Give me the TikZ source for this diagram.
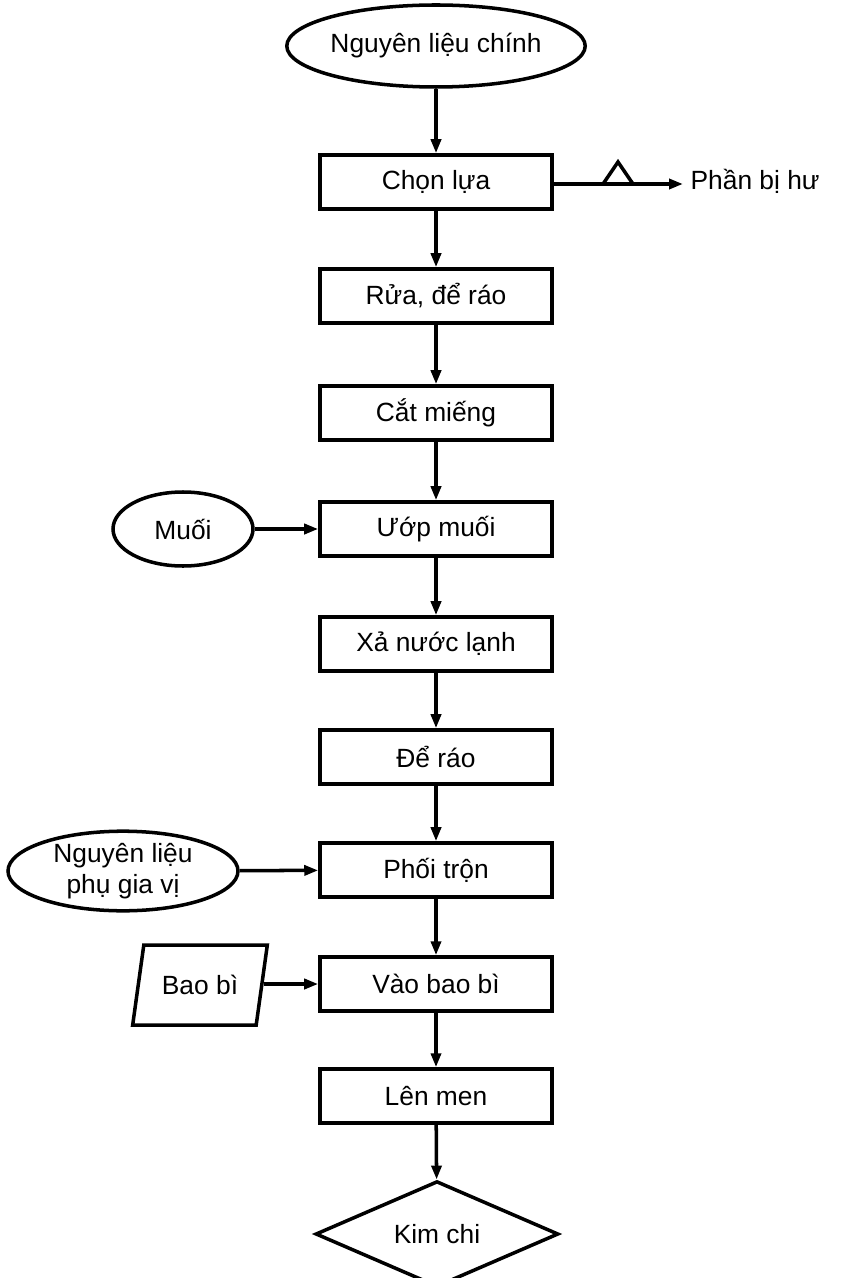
\documentclass[tikz,border=0pt]{standalone}
\usepackage{fontspec}
\setmainfont{Liberation Sans}
\usepackage{tikz}
\usetikzlibrary{positioning, shapes, arrows.meta, calc}

\begin{document}
\begin{tikzpicture}[x=0.2mm, y=-0.2mm, line width=2pt,
    font=\fontsize{15}{18}\selectfont,
    box/.style={draw, rectangle, minimum width=4.64cm, minimum height=1.08cm, inner sep=2pt},
    oval/.style={draw, ellipse, inner sep=0pt},
    arr/.style={-{Triangle[length=2.8mm,width=2mm]}}]
          \useasboundingbox (0,0) rectangle (845,1278);

          % Main line
          \node[oval, minimum width=4.74cm, minimum height=1.64cm] (nlc) at (436,46) {Nguyên liệu chính};
          \node[box] (chon) at (436,182) {Chọn lựa};
          \node[box] (rua) at (436,296) {Rửa, để ráo};
          \node[box] (cat) at (436,413) {Cắt miếng};
          \node[box] (uop) at (436,529) {Ướp muối};
          \node[box] (xa) at (436,644) {Xả nước lạnh};
          \node[box] (dearo) at (436,757) {Để ráo};
          \node[box] (phoi) at (436,870) {Phối trộn};
          \node[box] (vao) at (436,984) {Vào bao bì};
          \node[box] (len) at (436,1096) {Lên men};
          \node[draw, diamond, minimum width=4.86cm, minimum height=1.86cm, inner sep=0pt] (kimchi) at (437,1234) {Kim chi};
          \foreach \a/\b in {nlc/chon, chon/rua, rua/cat, cat/uop, uop/xa, xa/dearo, dearo/phoi, phoi/vao, vao/len, len/kimchi}
            \draw[arr] (\a) -- (\b);

          % Waste
          \coordinate (tl) at (603,184);
          \coordinate (tr) at (633,184);
          \draw (tl) -- ($(tl)!0.5!(tr)+(0,-22)$) -- (tr) -- cycle;
          \node[anchor=west] (hu) at (683,181) {Phần bị hư};
          \draw (chon.east |- tl) -- (tl);
          \draw[arr] (tr) -- (hu.west |- tr);

          % Inputs
          \node[oval, minimum width=2.8cm, minimum height=1.48cm] (muoi) at (183,529) {Muối};
          \draw[arr] (muoi) -- (uop);
          \node[oval, minimum width=4.6cm, minimum height=1.5cm, align=center] (pgv) at (123,871) {Nguyên liệu\\phụ gia vị};
          \draw[arr] (pgv) -- (phoi);
          \node[draw, trapezium, trapezium left angle=69, trapezium right angle=111, trapezium stretches=true,
                minimum width=2.7cm, minimum height=1.6cm, inner sep=0pt] (bao) at (200,985) {Bao bì};
          \draw[arr] (bao.east |- vao) -- (vao);
        \end{tikzpicture}
\end{document}
